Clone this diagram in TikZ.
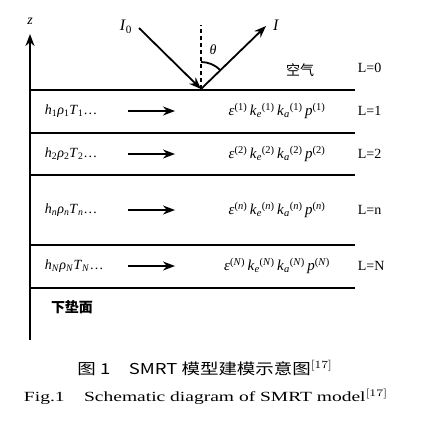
\documentclass[tikz,border=0pt]{standalone}
\usepackage{fontspec}
\setmainfont{Liberation Serif}
\newfontfamily\cjk{Noto Sans CJK SC}
\usetikzlibrary{arrows.meta,calc}
\newcommand{\vi}[1]{\textit{#1}}

\begin{document}
\begin{tikzpicture}[x=1pt, y=-1pt, line width=1.8pt,
  every node/.style={font=\fontsize{14}{16}\selectfont, inner sep=0pt},
  tip/.style={-{Stealth[length=12pt,width=9pt]}},
  prop/.style={font=\fontsize{15}{17}\selectfont}]
\useasboundingbox (0,0) rectangle (421,432);
% z axis and layer boundaries
\coordinate (zb) at (30,340); \coordinate (zt) at (30,34);
\draw[tip] (zb) -- (zt);
\node (z) at (30,21) {\vi{z}};
\foreach \y in {90,133,175,245,288} \draw (30,\y) -- (355,\y);
% incident and reflected beams
\coordinate (O) at (201,89);
\coordinate (src) at (139,28); \coordinate (nrm) at (201,25); \coordinate (dst) at (266,26);
\draw[tip] (src) -- (O);
\draw[tip] (O) -- (dst);
\draw[dash pattern=on 4pt off 3pt] (O) -- (nrm);
\draw (O) ++(0,-27) arc[start angle=-90, end angle=-45, radius=27];
\node (I0) at (126,27) {\fontsize{16}{18}\selectfont\vi{I}\textsubscript{0}};
\node (I) at (276,25) {\fontsize{16}{18}\selectfont\vi{I}};
\node (th) at (213,50) {\vi{θ}};
\node (air) at (300,70) {\cjk 空气};
\node[anchor=west] (L0) at (357,68) {L=0};
% layers
\foreach \y/\s/\m in {111/1/1,154/2/2,210/n/{\vi{n}},266/N/{\vi{N}}}{
  \node[anchor=west] (h\s) at (44,\y) {\vi{h}\textsubscript{\m}\vi{ρ}\textsubscript{\m}\vi{T}\textsubscript{\m}…};
  \coordinate (a\s) at (128,\y); \coordinate (b\s) at (175,\y);
  \draw[tip] (a\s) -- (b\s);
  \node[prop] (e\s) at (277,\y) {\vi{ε}\textsuperscript{(\m)}\,\vi{k}\textsubscript{\vi{e}}\textsuperscript{(\m)}\,\vi{k}\textsubscript{\vi{a}}\textsuperscript{(\m)}\,\vi{p}\textsuperscript{(\m)}};
  \node[anchor=west] (L\s) at (357,\y) {L=\s};
}
\node (gnd) at (72,307) {\cjk\bfseries 下垫面};
% captions
\node (cap1) at (205,368) {\resizebox{255pt}{\height}{\fontsize{15}{17}\selectfont\cjk 图 1\quad SMRT 模型建模示意图$^{[17]}$}};
\node (cap2) at (206,397) {\resizebox{364pt}{\height}{Fig.1\quad Schematic diagram of SMRT model$^{[17]}$}};
\end{tikzpicture}
\end{document}
